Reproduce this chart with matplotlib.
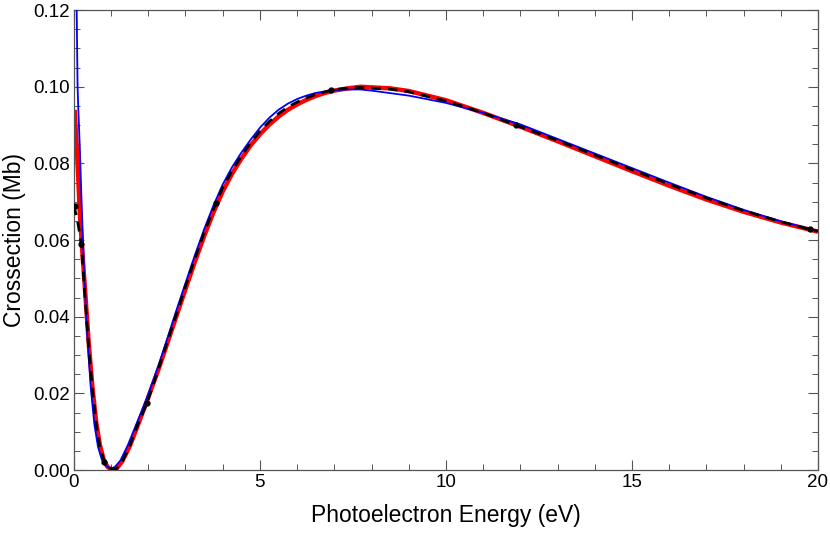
import numpy as np
import matplotlib.pyplot as plt
from matplotlib.ticker import MultipleLocator, FormatStrFormatter

plt.rcParams['font.family'] = ['Liberation Sans', 'DejaVu Sans']

# red curve (thick)
red_e = [0.02, 0.06, 0.10, 0.16, 0.22, 0.30, 0.40, 0.50, 0.60, 0.70, 0.80, 0.90, 1.00, 1.06,
         1.15, 1.30, 1.50, 1.70, 1.97, 2.30, 2.75, 3.00, 3.25, 3.50, 3.75, 4.00, 4.25, 4.50,
         4.75, 5.00, 5.25, 5.50, 5.75, 6.00, 6.25, 6.50, 6.75, 7.00, 7.30, 7.70, 8.50, 9.00,
         10.00, 11.00, 12.00, 13.00, 14.00, 15.00, 16.00, 17.00, 18.00, 19.00, 20.00]
red_v = [0.0940, 0.0870, 0.0800, 0.0670, 0.0580, 0.0470, 0.0330, 0.0215, 0.0125, 0.0065,
         0.0028, 0.0009, 0.0001, 0.0000, 0.0004, 0.0023, 0.0062, 0.0112, 0.0182, 0.0270,
         0.0400, 0.0472, 0.0543, 0.0610, 0.0672, 0.0727, 0.0773, 0.0812, 0.0847, 0.0876,
         0.0901, 0.0922, 0.0940, 0.0954, 0.0966, 0.0976, 0.0984, 0.0990, 0.0995, 0.1000,
         0.0996, 0.0989, 0.0965, 0.0932, 0.0896, 0.0858, 0.0819, 0.0780, 0.0742, 0.0706,
         0.0674, 0.0646, 0.0622]

# blue curve (thin)
blue_e = [0.070, 0.085, 0.10, 0.12, 0.16, 0.20, 0.27, 0.35, 0.45, 0.55, 0.65, 0.75, 0.85,
          0.95, 1.01, 1.10, 1.25, 1.45, 1.70, 1.97, 2.30, 2.75, 3.00, 3.25, 3.50, 3.75,
          4.00, 4.25, 4.50, 4.75, 5.00, 5.25, 5.50, 5.75, 6.00, 6.25, 6.50, 6.75, 7.00,
          7.30, 7.70, 8.00, 9.00, 10.00, 11.00, 12.00, 13.00, 14.00, 15.00, 16.00, 17.00,
          18.00, 19.00, 20.00]
blue_v = [0.1250, 0.1120, 0.1000, 0.0940, 0.0840, 0.0720, 0.0530, 0.0370, 0.0220, 0.0120,
          0.0060, 0.0028, 0.0012, 0.0006, 0.0005, 0.0008, 0.0025, 0.0065, 0.0125, 0.0190,
          0.0280, 0.0415, 0.0488, 0.0560, 0.0628, 0.0690, 0.0745, 0.0790, 0.0828, 0.0862,
          0.0893, 0.0919, 0.0940, 0.0956, 0.0968, 0.0977, 0.0984, 0.0988, 0.0991, 0.0993,
          0.0993, 0.0990, 0.0977, 0.0958, 0.0932, 0.0902, 0.0864, 0.0826, 0.0788, 0.0750,
          0.0713, 0.0679, 0.0649, 0.0624]

# black dashed curve
dash_e = [0.00, 0.10, 0.20, 0.30, 0.40, 0.50, 0.60, 0.70, 0.82, 0.95, 1.05, 1.15, 1.30,
          1.50, 1.70, 1.97, 2.30, 2.75, 3.00, 3.25, 3.50, 3.82, 4.00, 4.25, 4.50, 4.75,
          5.00, 5.25, 5.50, 5.75, 6.00, 6.25, 6.50, 6.91, 7.30, 7.70, 8.50, 9.00, 10.00,
          11.00, 11.88, 13.00, 14.00, 15.00, 16.00, 17.00, 18.00, 19.00, 19.78, 20.00]
dash_v = [0.0690, 0.0650, 0.0590, 0.0450, 0.0320, 0.0210, 0.0120, 0.0060, 0.0022, 0.0006,
          0.0002, 0.0004, 0.0022, 0.0062, 0.0115, 0.0176, 0.0272, 0.0405, 0.0480, 0.0551,
          0.0619, 0.0697, 0.0737, 0.0780, 0.0819, 0.0854, 0.0884, 0.0909, 0.0930, 0.0947,
          0.0960, 0.0971, 0.0980, 0.0991, 0.0996, 0.0998, 0.0994, 0.0987, 0.0963, 0.0932,
          0.0900, 0.0860, 0.0822, 0.0784, 0.0746, 0.0710, 0.0677, 0.0648, 0.0628, 0.0623]

# sample points (dots)
pt_e = [0.03, 0.20, 0.82, 1.97, 3.82, 6.91, 11.88, 19.78]
pt_v = [0.0690, 0.0590, 0.0022, 0.0174, 0.0697, 0.0991, 0.0900, 0.0628]

fig = plt.figure(figsize=(8.3, 5.33), dpi=100)
ax = fig.add_axes([0.089, 0.118, 0.8965, 0.863])

ax.plot(red_e, red_v, color='#ff0000', lw=3.2, solid_capstyle='butt', zorder=2)
ax.plot(blue_e, blue_v, color='#0000ff', lw=1.3, zorder=3)
ax.plot(dash_e, dash_v, color='black', lw=2.0, ls=(0, (3.5, 2.5)), zorder=4)
ax.plot(pt_e, pt_v, 'o', color='black', ms=3.5, zorder=5)

ax.set_xlim(0, 20)
ax.set_ylim(0, 0.12)
ax.xaxis.set_major_locator(MultipleLocator(5))
ax.xaxis.set_minor_locator(MultipleLocator(1))
ax.yaxis.set_major_locator(MultipleLocator(0.02))
ax.yaxis.set_minor_locator(MultipleLocator(0.005))
ax.yaxis.set_major_formatter(FormatStrFormatter('%.2f'))

ax.tick_params(which='both', direction='in', top=True, right=True, color='#555555',
               labelsize=13.5, pad=3)
ax.tick_params(which='major', length=7, width=0.8)
ax.tick_params(which='minor', length=4, width=0.7)
for s in ax.spines.values():
    s.set_color('#555555')
    s.set_linewidth(0.9)

ax.set_xlabel('Photoelectron Energy (eV)', fontsize=16.5, labelpad=9)
ax.set_ylabel('Crossection (Mb)', fontsize=16.5, labelpad=5)

fig.savefig('out.png', dpi=100)
